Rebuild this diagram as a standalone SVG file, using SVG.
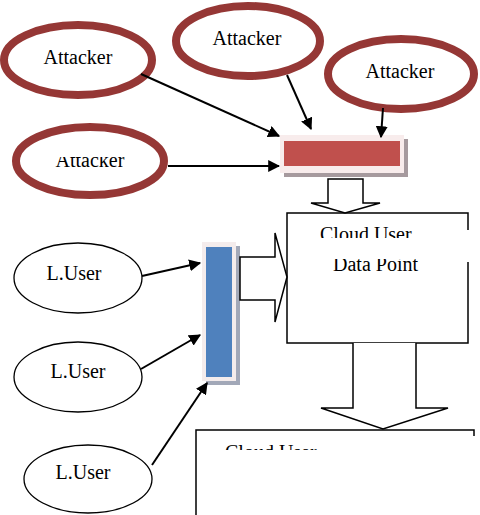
<svg xmlns="http://www.w3.org/2000/svg" width="480" height="515" viewBox="0 0 480 515">
<style>
.att{fill:#fff;stroke:#953735;stroke-width:8}
.usr{fill:#fff;stroke:#000;stroke-width:1.3}
text{font-family:"Liberation Serif","Times New Roman",serif;font-size:20px;fill:#000}
.t{text-anchor:middle}
.ln{stroke:#000;stroke-width:2;fill:none}
.blk{fill:#fff;stroke:#000;stroke-width:1.5}
.box{fill:#fff;stroke:#000;stroke-width:1.5}
</style>
<defs>
<marker id="ah" viewBox="0 0 10 10" refX="9" refY="5" markerWidth="6" markerHeight="6" markerUnits="strokeWidth" orient="auto">
<path d="M0,0 L10,5 L0,10 z" fill="#000"/>
</marker>
<clipPath id="c1"><rect x="290" y="215" width="175" height="23"/></clipPath>
<clipPath id="c2"><rect x="290" y="259" width="175" height="30"/></clipPath>
<clipPath id="c3"><rect x="200" y="432" width="270" height="18"/></clipPath>
<clipPath id="c4"><rect x="0" y="157" width="200" height="30"/></clipPath>
</defs>

<g id="attacker1"><ellipse class="att" cx="78" cy="60" rx="74" ry="35"/><text class="t" x="78" y="64">Attacker</text></g>
<g id="attacker2"><ellipse class="att" cx="248" cy="41" rx="72" ry="35"/><text class="t" x="247" y="45">Attacker</text></g>
<g id="attacker3"><ellipse class="att" cx="401" cy="74" rx="73" ry="35"/><text class="t" x="400" y="78">Attacker</text></g>
<g id="attacker4"><ellipse class="att" cx="90" cy="161" rx="74" ry="34"/><text class="t" x="90" y="167" clip-path="url(#c4)">Attacker</text></g>

<g id="redbar">
<rect x="284" y="139" width="124" height="38" fill="#a69a9e"/>
<rect x="280" y="135" width="124" height="38" fill="#f8ecec"/>
<rect x="284" y="141" width="116" height="25" fill="#c0504d"/>
</g>

<g id="bluebar">
<rect x="206" y="246" width="34" height="139" fill="#a2a8b8"/>
<rect x="202" y="242" width="34" height="139" fill="#f4ecec"/>
<rect x="206" y="247" width="26" height="130" fill="#4f81bd"/>
</g>

<g id="user1"><ellipse class="usr" cx="78" cy="278" rx="64" ry="35"/><text class="t" x="74" y="280">L.User</text></g>
<g id="user2"><ellipse class="usr" cx="78" cy="377" rx="64" ry="35"/><text class="t" x="78" y="378">L.User</text></g>
<g id="user3"><ellipse class="usr" cx="88" cy="479" rx="64" ry="34"/><text class="t" x="83" y="479">L.User</text></g>

<g id="cloud1">
<rect class="box" x="287" y="213" width="181" height="130"/>
<rect x="462" y="230" width="10" height="32" fill="#fff"/>
<text x="320" y="241" clip-path="url(#c1)">Cloud User</text>
<text x="333" y="271" clip-path="url(#c2)">Data Point</text>
</g>

<g id="cloud2">
<path class="box" d="M196,515 V430 H474 V436"/>
<text x="225" y="459" clip-path="url(#c3)">Cloud User</text>
</g>

<g id="connectors">
<line class="ln" x1="141" y1="74" x2="279" y2="136" marker-end="url(#ah)"/>
<line class="ln" x1="287" y1="75" x2="311" y2="129" marker-end="url(#ah)"/>
<line class="ln" x1="383" y1="108" x2="381" y2="137" marker-end="url(#ah)"/>
<line class="ln" x1="168" y1="166" x2="279" y2="166" marker-end="url(#ah)"/>
<line class="ln" x1="142" y1="276" x2="200" y2="263" marker-end="url(#ah)"/>
<line class="ln" x1="141" y1="369" x2="200" y2="335" marker-end="url(#ah)"/>
<line class="ln" x1="152" y1="465" x2="207" y2="383" marker-end="url(#ah)"/>
<path class="blk" d="M328,179 H363 V203 H380 L345,213 L311,203 H328 Z"/>
<path class="blk" d="M240,257 H275 V233 L287,277 L275,322 V300 H240 Z"/>
<path class="blk" d="M353,343 V408 H321 L383,429 L448,408 H416 V343"/>
</g>
</svg>
